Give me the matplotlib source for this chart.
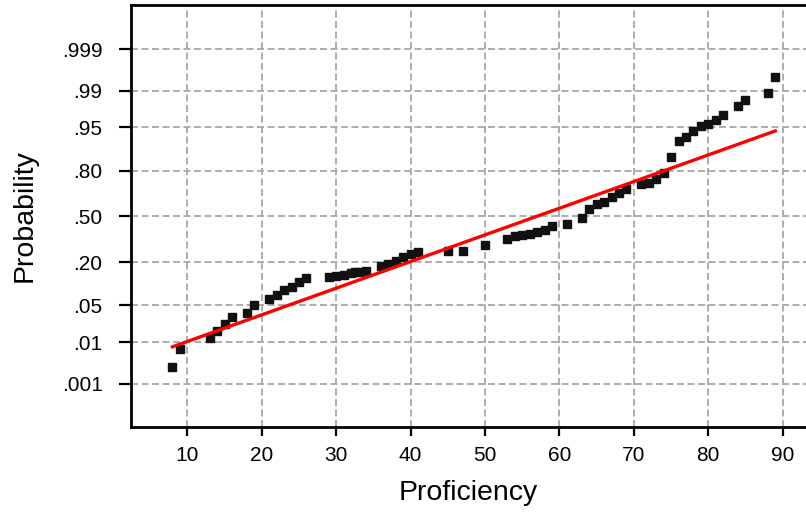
import matplotlib
matplotlib.use("Agg")
import matplotlib.pyplot as plt
from statistics import NormalDist

# Normal probability plot of proficiency scores
proficiency = [8, 9, 13, 14, 15, 16, 18, 19, 21, 22, 23, 24, 25, 26,
               29, 30, 31, 32, 32.5, 33, 34, 36, 37, 38, 39, 40, 41, 45, 47,
               50, 53, 54, 55, 56, 57, 58, 59, 61, 63, 64, 65, 66, 67, 68,
               69, 71, 72, 73, 74, 75, 76, 77, 78, 79, 80, 81, 82, 84, 85,
               88, 89]
probability = [0.00275, 0.0072, 0.0124, 0.0168, 0.0231, 0.032, 0.0372, 0.0509,
               0.0636, 0.0734, 0.0871, 0.0972, 0.113, 0.126,
               0.132, 0.134, 0.141, 0.149, 0.152, 0.154, 0.159, 0.180, 0.190,
               0.203, 0.229, 0.244, 0.253, 0.261, 0.263,
               0.302, 0.342, 0.356, 0.363, 0.373, 0.389, 0.401, 0.427, 0.443,
               0.489, 0.555, 0.588, 0.602, 0.643, 0.670,
               0.692, 0.723, 0.735, 0.758, 0.787, 0.865, 0.919, 0.930, 0.944,
               0.952, 0.956, 0.962, 0.970, 0.979, 0.984,
               0.989, 0.995]

# fitted normal reference line
fit_mean = 56.9
fit_sd = 20.3

prob_ticks = [0.001, 0.01, 0.05, 0.20, 0.50, 0.80, 0.95, 0.99, 0.999]
prob_labels = ['.001', '.01', '.05', '.20', '.50', '.80', '.95', '.99', '.999']
x_ticks = [10, 20, 30, 40, 50, 60, 70, 80, 90]

nd = NormalDist()
z_points = [nd.inv_cdf(p) for p in probability]
z_ticks = [nd.inv_cdf(p) for p in prob_ticks]

line_x = [min(proficiency), max(proficiency)]
line_z = [(v - fit_mean) / fit_sd for v in line_x]

plt.rcParams['font.family'] = ['Liberation Sans', 'DejaVu Sans']

fig = plt.figure(figsize=(8.06, 5.12), dpi=100)
ax = fig.add_axes([131 / 806, 85 / 512, 1 - 131 / 806, 422 / 512])

ax.plot(proficiency, z_points, 's', ms=5.5, color='#111111', zorder=3)
ax.plot(line_x, line_z, color='#ff0000', lw=2.4, zorder=4)

ax.set_xlim(2.43, 93.13)
ax.set_ylim(-3.891, 3.909)
ax.set_xticks(x_ticks)
ax.set_yticks(z_ticks)
ax.set_yticklabels(prob_labels)

ax.grid(True, color='#adadad', linestyle=(0, (3.6, 1.8)), linewidth=1.4)
ax.set_axisbelow(True)

for side in ['left', 'bottom', 'top']:
    ax.spines[side].set_linewidth(2)
ax.spines['right'].set_visible(False)

ax.tick_params(axis='x', direction='out', length=6.5, width=1.6,
               labelsize=15, pad=7)
ax.tick_params(axis='y', direction='out', length=9, width=1.6,
               labelsize=15, pad=11.5)

ax.set_xlabel('Proficiency', fontsize=20.5, labelpad=11)
ax.set_ylabel('Probability', fontsize=20.5, labelpad=17)

fig.savefig('out.png', dpi=100)
